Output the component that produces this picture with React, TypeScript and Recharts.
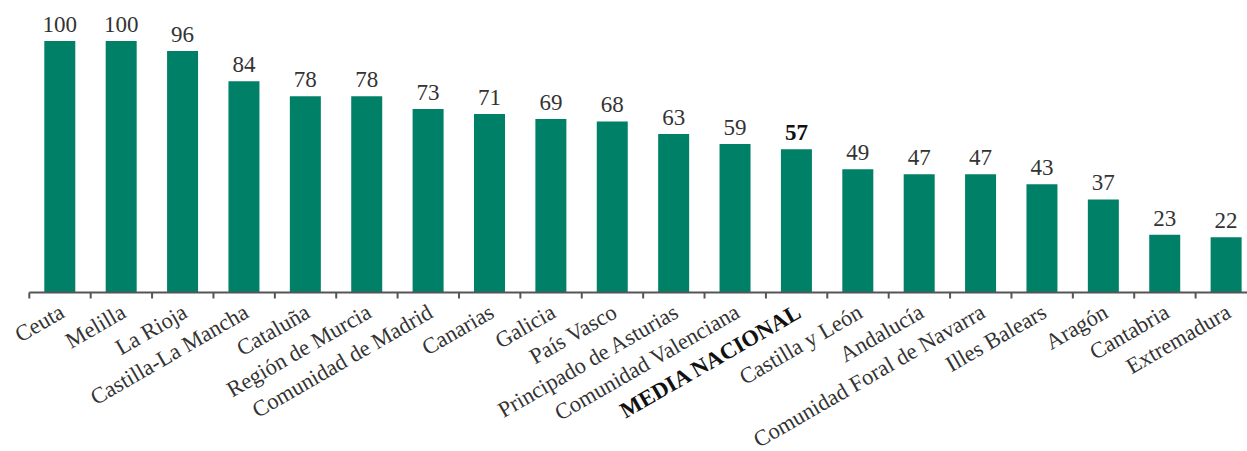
import React from 'react';
import { BarChart, Bar, XAxis, YAxis, LabelList } from 'recharts';

const categories = [
  'Ceuta', 'Melilla', 'La Rioja', 'Castilla-La Mancha', 'Cataluña', 'Región de Murcia',
  'Comunidad de Madrid', 'Canarias', 'Galicia', 'País Vasco', 'Principado de Asturias',
  'Comunidad Valenciana', 'MEDIA NACIONAL', 'Castilla y León', 'Andalucía',
  'Comunidad Foral de Navarra', 'Illes Balears', 'Aragón', 'Cantabria', 'Extremadura',
];
const values = [100, 100, 96, 84, 78, 78, 73, 71, 69, 68, 63, 59, 57, 49, 47, 47, 43, 37, 23, 22];
const highlight = 'MEDIA NACIONAL';

const data = categories.map((name, i) => ({ name, value: values[i] }));

const W = 1257;
const H = 451;
const LEFT = 29.3;
const HALF_BAND = (W - LEFT) / categories.length / 2;
const FONT = '"Liberation Serif", "Times New Roman", serif';
const GREEN = '#008066';
const TEXT = '#333333';

const AxisTick = (props: any) => {
  const { x, y, payload } = props;
  const bold = payload.value === highlight;
  const ax = x + 6;
  const ay = y + 24;
  return (
    <g>
      <line x1={x - HALF_BAND} x2={x - HALF_BAND} y1={y} y2={y + 6} stroke="#555" strokeWidth={2} />
      <text
        x={ax}
        y={ay}
        textAnchor="end"
        transform={`rotate(-30, ${ax}, ${ay})`}
        fontFamily={FONT}
        fontSize={22.5}
        fontWeight={bold ? 'bold' : 'normal'}
        fill={bold ? '#111' : TEXT}
      >
        {payload.value}
      </text>
    </g>
  );
};

const ValueLabel = (props: any) => {
  const { x, y, width, value, index } = props;
  const bold = categories[index] === highlight;
  return (
    <text
      x={x + width / 2}
      y={y - 9}
      textAnchor="middle"
      fontFamily={FONT}
      fontSize={23}
      fontWeight={bold ? 'bold' : 'normal'}
      fill={bold ? '#111' : TEXT}
    >
      {value}
    </text>
  );
};

export default function App() {
  return (
    <div style={{ position: 'absolute', left: 0, top: 0, width: 1247, height: 451, overflow: 'hidden', background: '#fff' }}>
      <BarChart width={W} height={H} data={data} margin={{ top: 41, right: 0, left: LEFT, bottom: 0 }}>
        <YAxis hide domain={[0, 100]} />
        <XAxis
          dataKey="name"
          interval={0}
          height={158.5}
          tickLine={false}
          tickSize={0}
          tickMargin={0}
          axisLine={{ stroke: '#555', strokeWidth: 2 }}
          tick={<AxisTick />}
        />
        <Bar dataKey="value" fill={GREEN} barSize={31} isAnimationActive={false}>
          <LabelList dataKey="value" content={<ValueLabel />} />
        </Bar>
      </BarChart>
    </div>
  );
}
